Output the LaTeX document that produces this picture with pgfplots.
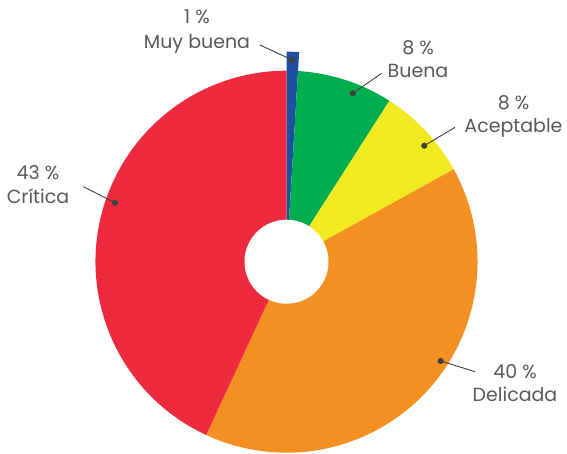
\documentclass[border=0pt]{standalone}
\usepackage{pgfplots}
\usepackage{pgfplotstable}
\pgfplotsset{compat=1.18}
\usepackage{fontspec}
\setmainfont{Poppins}
\definecolor{cblue}{HTML}{1E50A2}
\definecolor{cgreen}{HTML}{00AE4F}
\definecolor{cyellow}{HTML}{F2EA21}
\definecolor{corange}{HTML}{F49021}
\definecolor{cred}{HTML}{EE2B3E}
\definecolor{ctext}{HTML}{595959}
\definecolor{cline}{HTML}{404040}

% slices clockwise from 12 o'clock: value (%), outer radius (px), colour
\pgfplotstableread{
value radius color
0.96  210 cblue
8.10  191 cgreen
7.90  191 cyellow
39.94 191 corange
43.10 191 cred
}\piedata

\begin{document}
\begin{tikzpicture}
\begin{axis}[
  name=pie,
  x=1pt, y=1pt,
  xmin=-286.5, xmax=280.5, ymin=-192.3, ymax=261.7,
  hide axis, clip=false,
]
\def\cum{0}
\pgfplotsforeachungrouped \i in {0,...,4}{%
  \pgfplotstablegetelem{\i}{value}\of\piedata \let\val\pgfplotsretval
  \pgfplotstablegetelem{\i}{radius}\of\piedata \let\rad\pgfplotsretval
  \pgfplotstablegetelem{\i}{color}\of\piedata \let\col\pgfplotsretval
  \pgfmathsetmacro\sa{90-3.6*\cum}%
  \pgfmathsetmacro\ea{90-3.6*(\cum+\val)}%
  \pgfmathsetmacro\cum{\cum+\val}%
  \pgfmathsetmacro\xs{\rad*cos(\sa)}%
  \pgfmathsetmacro\ys{\rad*sin(\sa)}%
  \edef\temp{\noexpand\fill[\col] (axis cs:0,0) -- (axis cs:\xs,\ys) arc[start angle=\sa, end angle=\ea, radius=\rad pt] -- cycle;}%
  \temp
}
\fill[white] (axis cs:0,0) circle[radius=42pt];

% leader lines with dots
\pgfplotsset{leader/.style={cline, line width=0.9pt, mark=*, mark size=2.6pt, mark indices={2}, mark options={fill=cline, draw=cline}}}
\addplot[leader] coordinates {(-26.5,216.7) (5.8,201.7)};
\addplot[leader] coordinates {(95.2,188.4) (66.2,168.4)};
\addplot[leader] coordinates {(168.5,134.4) (137.8,116.0)};
\addplot[leader] coordinates {(-203.2,75.0) (-171.5,59.0)};
\addplot[leader] coordinates {(188.5,-110.0) (154.2,-99.3)};

% labels
\tikzset{lab/.style={anchor=base, text=ctext, font=\fontsize{19}{24}\selectfont, inner sep=0pt}}
\node[lab] at (axis cs:-89.5,237.7) {1 \%};
\node[lab] at (axis cs:-89.5,213.4) {Muy buena};
\node[lab] at (axis cs:131.5,206.7) {8 \%};
\node[lab] at (axis cs:131.5,183.7) {Buena};
\node[lab] at (axis cs:227,151.7) {8 \%};
\node[lab] at (axis cs:227,129.0) {Aceptable};
\node[lab] at (axis cs:-248.5,82.4) {43 \%};
\node[lab] at (axis cs:-248.5,58.4) {Crítica};
\node[lab] at (axis cs:228.5,-116.6) {40 \%};
\node[lab] at (axis cs:228.5,-140.0) {Delicada};
\end{axis}
\pgfresetboundingbox
\path (pie.south west) rectangle (pie.north east);
\end{tikzpicture}
\end{document}
